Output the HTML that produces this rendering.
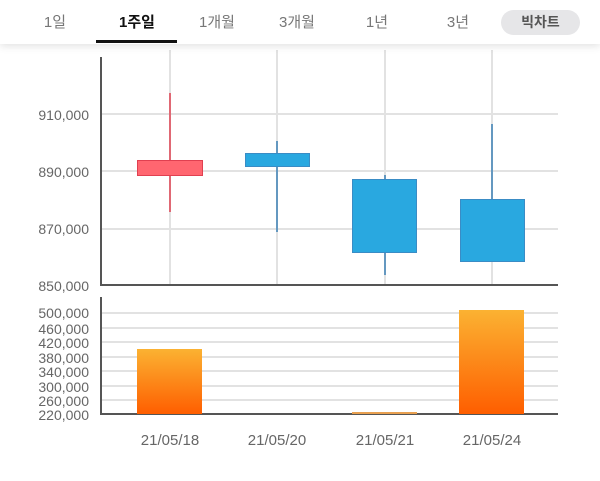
<!DOCTYPE html>
<html><head><meta charset="utf-8"><style>
body{margin:0;width:600px;height:481px;background:#fff;overflow:hidden;font-family:"Liberation Sans","Noto Sans CJK KR",sans-serif;}
.bar{position:absolute;left:0;top:0;width:600px;height:44px;background:#fff;box-shadow:0 2px 8px rgba(0,0,0,0.12);}
.t{position:absolute;top:11px;font-size:15px;color:#777;transform:translateX(-50%);}
</style></head><body>
<svg width="600" height="481" style="position:absolute;left:0;top:0" font-family="Liberation Sans, sans-serif">
<defs><linearGradient id="g" x1="0" y1="0" x2="0" y2="1"><stop offset="0" stop-color="#fbb232"/><stop offset="1" stop-color="#fe5e00"/></linearGradient></defs>
<g stroke="#e2e2e2" stroke-width="2">
<line x1="170" y1="50" x2="170" y2="285"/><line x1="277" y1="50" x2="277" y2="285"/><line x1="385" y1="50" x2="385" y2="285"/><line x1="492" y1="50" x2="492" y2="285"/>
<line x1="102" y1="114" x2="558" y2="114"/><line x1="102" y1="171" x2="558" y2="171"/><line x1="102" y1="229" x2="558" y2="229"/>
<line x1="102" y1="313" x2="558" y2="313"/><line x1="102" y1="328" x2="558" y2="328"/><line x1="102" y1="342" x2="558" y2="342"/><line x1="102" y1="357" x2="558" y2="357"/><line x1="102" y1="371" x2="558" y2="371"/><line x1="102" y1="386" x2="558" y2="386"/><line x1="102" y1="400" x2="558" y2="400"/>
</g>
<g stroke="#555" stroke-width="2" fill="none">
<polyline points="101,57 101,285 558,285"/><polyline points="101,297 101,414 558,414"/>
</g>
<line x1="170" y1="93" x2="170" y2="212" stroke="#e04050" stroke-width="1.5"/>
<rect x="137.5" y="160.5" width="65" height="15" fill="#ff6670" stroke="#e04050"/>
<g stroke="#3a7fb5" stroke-width="1.5"><line x1="277" y1="141" x2="277" y2="232"/><line x1="385" y1="175" x2="385" y2="275"/><line x1="492" y1="124" x2="492" y2="261"/></g>
<g fill="#29a8e0" stroke="#3a8cc5">
<rect x="245.5" y="153.5" width="64" height="13"/>
<rect x="352.5" y="179.5" width="64" height="73"/>
<rect x="460.5" y="199.5" width="64" height="62"/>
</g>
<rect x="137" y="349" width="65" height="65" fill="url(#g)"/>
<rect x="352" y="412" width="65" height="2" fill="#e8a050"/>
<rect x="459" y="310" width="65" height="104" fill="url(#g)"/>
<g fill="#666" font-size="14" text-anchor="end">
<text x="89" y="120">910,000</text><text x="89" y="177">890,000</text><text x="89" y="234">870,000</text><text x="89" y="291">850,000</text>
<text x="89" y="318">500,000</text><text x="89" y="334">460,000</text><text x="89" y="348">420,000</text><text x="89" y="363">380,000</text><text x="89" y="377">340,000</text><text x="89" y="392">300,000</text><text x="89" y="406">260,000</text><text x="89" y="420">220,000</text>
</g>
<g fill="#666" font-size="15" text-anchor="middle">
<text x="170" y="445">21/05/18</text><text x="277" y="445">21/05/20</text><text x="385" y="445">21/05/21</text><text x="492" y="445">21/05/24</text>
</g>
</svg>
<div class="bar">
<span class="t" style="left:55px">1일</span>
<span class="t" style="left:137px;color:#111;font-weight:bold">1주일</span>
<span class="t" style="left:217px">1개월</span>
<span class="t" style="left:297px">3개월</span>
<span class="t" style="left:377px">1년</span>
<span class="t" style="left:458px">3년</span>
<div style="position:absolute;left:96px;top:40px;width:81px;height:3px;background:#111"></div>
<div style="position:absolute;left:501px;top:10px;width:79px;height:25px;border-radius:13px;background:#e6e6e8;color:#555;font-weight:bold;font-size:14px;text-align:center;line-height:24px">빅차트</div>
</div>
</body></html>
